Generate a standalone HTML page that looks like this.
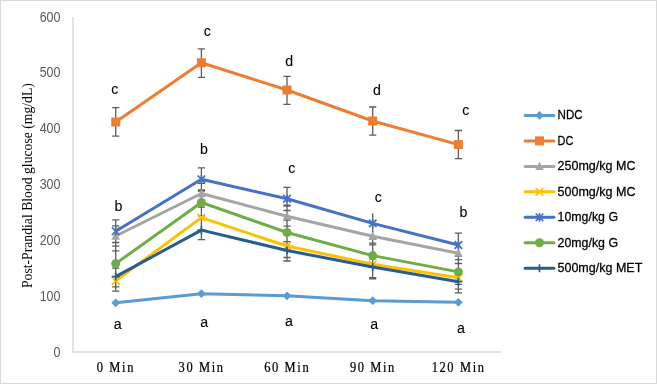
<!DOCTYPE html>
<html><head><meta charset="utf-8">
<style>
html,body{margin:0;padding:0;background:#fff;}
body{width:657px;height:384px;overflow:hidden;}
svg{display:block;will-change:transform;}
.tk{font-family:"Liberation Sans",sans-serif;font-size:12.5px;fill:#595959;}
.xl{font-family:"Liberation Serif",serif;font-size:12.5px;fill:#000;letter-spacing:1.6px;stroke:#000;stroke-width:0.2px;}
.yt{font-family:"Liberation Serif",serif;font-size:13.7px;fill:#000;}
.lb{font-family:"Liberation Sans",sans-serif;font-size:14.2px;fill:#000;stroke:#000;stroke-width:0.08px;}
.lg{font-family:"Liberation Sans",sans-serif;font-size:11.8px;fill:#000;stroke:#000;stroke-width:0.25px;}
</style></head>
<body><svg width="657" height="384" viewBox="0 0 657 384">
<rect x="0.5" y="0.5" width="656" height="383" fill="#fff" stroke="#d9d9d9" stroke-width="1"/>
<line x1="73" y1="17" x2="73" y2="352.5" stroke="#d9d9d9" stroke-width="1.5"/>
<line x1="72.25" y1="352" x2="501" y2="352" stroke="#d9d9d9" stroke-width="1.5"/>
<text transform="translate(60.5 356.6) scale(1 1.1)" text-anchor="end" class="tk">0</text>
<text transform="translate(60.5 300.8) scale(1 1.1)" text-anchor="end" class="tk">100</text>
<text transform="translate(60.5 244.9) scale(1 1.1)" text-anchor="end" class="tk">200</text>
<text transform="translate(60.5 189.1) scale(1 1.1)" text-anchor="end" class="tk">300</text>
<text transform="translate(60.5 133.3) scale(1 1.1)" text-anchor="end" class="tk">400</text>
<text transform="translate(60.5 77.4) scale(1 1.1)" text-anchor="end" class="tk">500</text>
<text transform="translate(60.5 21.6) scale(1 1.1)" text-anchor="end" class="tk">600</text>
<text transform="translate(115.9 371.6) scale(1 1.12)" text-anchor="middle" class="xl">0 Min</text>
<text transform="translate(201.6 371.6) scale(1 1.12)" text-anchor="middle" class="xl">30 Min</text>
<text transform="translate(287.2 371.6) scale(1 1.12)" text-anchor="middle" class="xl">60 Min</text>
<text transform="translate(372.9 371.6) scale(1 1.12)" text-anchor="middle" class="xl">90 Min</text>
<text transform="translate(458.6 371.6) scale(1 1.12)" text-anchor="middle" class="xl">120 Min</text>
<text transform="translate(32.4 185.6) rotate(-90)" text-anchor="middle" class="yt">Post-Prandial Blood glucose (mg/dL)</text>
<path d="M115.7 107.6V136.2M115.7 219.9V291.2M112.1 107.6H119.3M112.1 136.2H119.3M112.1 219.9H119.3M112.1 225.8H119.3M112.1 242.5H119.3M112.1 246.1H119.3M112.1 250.9H119.3M112.1 268.2H119.3M112.1 286.9H119.3M112.1 291.2H119.3M201.4 48.8V77.3M201.4 167.8V239.6M197.8 48.8H205.0M197.8 77.3H205.0M197.8 167.8H205.0M197.8 183.4H205.0M197.8 189.8H205.0M197.8 191.0H205.0M197.8 207.1H205.0M197.8 215.8H205.0M197.8 239.6H205.0M287.0 76.3V104.3M287.0 187.3V261.0M283.4 76.3H290.6M283.4 104.3H290.6M283.4 187.3H290.6M283.4 205.2H290.6M283.4 206.2H290.6M283.4 210.5H290.6M283.4 220.0H290.6M283.4 226.1H290.6M283.4 241.7H290.6M283.4 257.5H290.6M283.4 261.0H290.6M372.7 107.0V135.2M372.7 213.2V278.8M369.1 107.0H376.3M369.1 135.2H376.3M369.1 243.2H376.3M369.1 244.8H376.3M369.1 258.8H376.3M369.1 277.6H376.3M369.1 278.8H376.3M458.4 130.5V158.7M458.4 233.1V292.8M454.8 130.5H462.0M454.8 158.7H462.0M454.8 233.1H462.0M454.8 256.3H462.0M454.8 259.6H462.0M454.8 263.5H462.0M454.8 284.3H462.0M454.8 289.1H462.0M454.8 292.8H462.0" stroke="#5d5d5d" stroke-width="1.3" fill="none"/>
<polyline points="115.7,302.8 201.4,293.7 287.0,295.8 372.7,300.7 458.4,302.3" stroke="#5B9BD5" stroke-width="3" fill="none" stroke-linejoin="round"/>
<path d="M115.7 298.40000000000003L120.10000000000001 302.8L115.7 307.2L111.3 302.8Z" fill="#5B9BD5"/>
<path d="M201.4 289.3L205.8 293.7L201.4 298.09999999999997L197.0 293.7Z" fill="#5B9BD5"/>
<path d="M287.0 291.40000000000003L291.4 295.8L287.0 300.2L282.6 295.8Z" fill="#5B9BD5"/>
<path d="M372.7 296.3L377.09999999999997 300.7L372.7 305.09999999999997L368.3 300.7Z" fill="#5B9BD5"/>
<path d="M458.4 297.90000000000003L462.79999999999995 302.3L458.4 306.7L454.0 302.3Z" fill="#5B9BD5"/>
<polyline points="115.7,122.0 201.4,62.8 287.0,90.0 372.7,121.0 458.4,144.6" stroke="#ED7D31" stroke-width="3" fill="none" stroke-linejoin="round"/>
<rect x="111.2" y="117.5" width="9.0" height="9.0" fill="#ED7D31"/>
<rect x="196.9" y="58.3" width="9.0" height="9.0" fill="#ED7D31"/>
<rect x="282.5" y="85.5" width="9.0" height="9.0" fill="#ED7D31"/>
<rect x="368.2" y="116.5" width="9.0" height="9.0" fill="#ED7D31"/>
<rect x="453.9" y="140.1" width="9.0" height="9.0" fill="#ED7D31"/>
<polyline points="115.7,236.0 201.4,193.5 287.0,216.2 372.7,236.3 458.4,253.2" stroke="#A5A5A5" stroke-width="3" fill="none" stroke-linejoin="round"/>
<path d="M115.7 231.27L120.0 239.655L111.4 239.655Z" fill="#A5A5A5"/>
<path d="M201.4 188.77L205.70000000000002 197.155L197.1 197.155Z" fill="#A5A5A5"/>
<path d="M287.0 211.47L291.3 219.855L282.7 219.855Z" fill="#A5A5A5"/>
<path d="M372.7 231.57000000000002L377.0 239.955L368.4 239.955Z" fill="#A5A5A5"/>
<path d="M458.4 248.47L462.7 256.85499999999996L454.09999999999997 256.85499999999996Z" fill="#A5A5A5"/>
<polyline points="115.7,280.8 201.4,217.6 287.0,246.0 372.7,264.3 458.4,277.8" stroke="#FFC000" stroke-width="3" fill="none" stroke-linejoin="round"/>
<path d="M111.9 277.0L119.5 284.6M119.5 277.0L111.9 284.6" stroke="#FFC000" stroke-width="1.7" fill="none"/>
<path d="M197.6 213.79999999999998L205.20000000000002 221.4M205.20000000000002 213.79999999999998L197.6 221.4" stroke="#FFC000" stroke-width="1.7" fill="none"/>
<path d="M283.2 242.2L290.8 249.8M290.8 242.2L283.2 249.8" stroke="#FFC000" stroke-width="1.7" fill="none"/>
<path d="M368.9 260.5L376.5 268.1M376.5 260.5L368.9 268.1" stroke="#FFC000" stroke-width="1.7" fill="none"/>
<path d="M454.59999999999997 274.0L462.2 281.6M462.2 274.0L454.59999999999997 281.6" stroke="#FFC000" stroke-width="1.7" fill="none"/>
<polyline points="115.7,231.2 201.4,179.3 287.0,198.8 372.7,223.4 458.4,245.0" stroke="#4472C4" stroke-width="3" fill="none" stroke-linejoin="round"/>
<path d="M111.9 227.39999999999998L119.5 235.0M119.5 227.39999999999998L111.9 235.0M115.7 226.82999999999998V235.57" stroke="#4472C4" stroke-width="1.7" fill="none"/>
<path d="M197.6 175.5L205.20000000000002 183.10000000000002M205.20000000000002 175.5L197.6 183.10000000000002M201.4 174.93V183.67000000000002" stroke="#4472C4" stroke-width="1.7" fill="none"/>
<path d="M283.2 194.95L290.8 202.55M290.8 194.95L283.2 202.55M287.0 194.38V203.12" stroke="#4472C4" stroke-width="1.7" fill="none"/>
<path d="M368.9 219.6L376.5 227.20000000000002M376.5 219.6L368.9 227.20000000000002M372.7 219.03V227.77" stroke="#4472C4" stroke-width="1.7" fill="none"/>
<path d="M454.59999999999997 241.2L462.2 248.8M462.2 241.2L454.59999999999997 248.8M458.4 240.63V249.37" stroke="#4472C4" stroke-width="1.7" fill="none"/>
<polyline points="115.7,263.6 201.4,202.5 287.0,232.5 372.7,255.6 458.4,271.9" stroke="#70AD47" stroke-width="3" fill="none" stroke-linejoin="round"/>
<circle cx="115.7" cy="263.6" r="4.5" fill="#70AD47"/>
<circle cx="201.4" cy="202.5" r="4.5" fill="#70AD47"/>
<circle cx="287.0" cy="232.5" r="4.5" fill="#70AD47"/>
<circle cx="372.7" cy="255.6" r="4.5" fill="#70AD47"/>
<circle cx="458.4" cy="271.9" r="4.5" fill="#70AD47"/>
<polyline points="115.7,276.6 201.4,230.1 287.0,250.5 372.7,267.0 458.4,281.7" stroke="#255E91" stroke-width="3" fill="none" stroke-linejoin="round"/>
<path d="M111.7 276.6L119.7 276.6M115.7 272.6L115.7 280.6" stroke="#255E91" stroke-width="1.7" fill="none"/>
<path d="M197.4 230.1L205.4 230.1M201.4 226.1L201.4 234.1" stroke="#255E91" stroke-width="1.7" fill="none"/>
<path d="M283.0 250.5L291.0 250.5M287.0 246.5L287.0 254.5" stroke="#255E91" stroke-width="1.7" fill="none"/>
<path d="M368.7 267.0L376.7 267.0M372.7 263.0L372.7 271.0" stroke="#255E91" stroke-width="1.7" fill="none"/>
<path d="M454.4 281.7L462.4 281.7M458.4 277.7L458.4 285.7" stroke="#255E91" stroke-width="1.7" fill="none"/>
<text transform="translate(114.8 93.9) scale(1 1.06)" text-anchor="middle" class="lb">c</text>
<text transform="translate(207.4 36.3) scale(1 1.06)" text-anchor="middle" class="lb">c</text>
<text transform="translate(289.1 66.3) scale(1 1.06)" text-anchor="middle" class="lb">d</text>
<text transform="translate(377.0 94.8) scale(1 1.06)" text-anchor="middle" class="lb">d</text>
<text transform="translate(465.8 115.0) scale(1 1.06)" text-anchor="middle" class="lb">c</text>
<text transform="translate(118.4 210.8) scale(1 1.06)" text-anchor="middle" class="lb">b</text>
<text transform="translate(204.0 154.4) scale(1 1.06)" text-anchor="middle" class="lb">b</text>
<text transform="translate(291.8 172.8) scale(1 1.06)" text-anchor="middle" class="lb">c</text>
<text transform="translate(378.2 202.0) scale(1 1.06)" text-anchor="middle" class="lb">c</text>
<text transform="translate(463.5 217.2) scale(1 1.06)" text-anchor="middle" class="lb">b</text>
<text transform="translate(117.8 328.6) scale(1 1.06)" text-anchor="middle" class="lb">a</text>
<text transform="translate(204.1 327.4) scale(1 1.06)" text-anchor="middle" class="lb">a</text>
<text transform="translate(289.0 326.0) scale(1 1.06)" text-anchor="middle" class="lb">a</text>
<text transform="translate(374.1 328.5) scale(1 1.06)" text-anchor="middle" class="lb">a</text>
<text transform="translate(460.9 332.8) scale(1 1.06)" text-anchor="middle" class="lb">a</text>
<line x1="525.1" y1="115.4" x2="553.9" y2="115.4" stroke="#5B9BD5" stroke-width="3" stroke-linecap="round"/>
<path d="M539.5 111.0L543.9 115.4L539.5 119.80000000000001L535.1 115.4Z" fill="#5B9BD5"/>
<text transform="translate(557.5 119.4) scale(1 1.07)" class="lg" textLength="25.2" lengthAdjust="spacingAndGlyphs">NDC</text>
<line x1="525.1" y1="140.9" x2="553.9" y2="140.9" stroke="#ED7D31" stroke-width="3" stroke-linecap="round"/>
<rect x="535.0" y="136.38" width="9.0" height="9.0" fill="#ED7D31"/>
<text transform="translate(557.5 144.9) scale(1 1.07)" class="lg" textLength="15.8" lengthAdjust="spacingAndGlyphs">DC</text>
<line x1="525.1" y1="166.4" x2="553.9" y2="166.4" stroke="#A5A5A5" stroke-width="3" stroke-linecap="round"/>
<path d="M539.5 161.63000000000002L543.8 170.01500000000001L535.2 170.01500000000001Z" fill="#A5A5A5"/>
<text transform="translate(557.5 170.4) scale(1 1.07)" class="lg" textLength="78.0" lengthAdjust="spacingAndGlyphs">250mg/kg MC</text>
<line x1="525.1" y1="191.8" x2="553.9" y2="191.8" stroke="#FFC000" stroke-width="3" stroke-linecap="round"/>
<path d="M535.7 188.04L543.3 195.64000000000001M543.3 188.04L535.7 195.64000000000001" stroke="#FFC000" stroke-width="1.7" fill="none"/>
<text transform="translate(557.5 195.8) scale(1 1.07)" class="lg" textLength="78.0" lengthAdjust="spacingAndGlyphs">500mg/kg MC</text>
<line x1="525.1" y1="217.3" x2="553.9" y2="217.3" stroke="#4472C4" stroke-width="3" stroke-linecap="round"/>
<path d="M535.7 213.51999999999998L543.3 221.12M543.3 213.51999999999998L535.7 221.12M539.5 212.95V221.69" stroke="#4472C4" stroke-width="1.7" fill="none"/>
<text transform="translate(557.5 221.3) scale(1 1.07)" class="lg" textLength="60.5" lengthAdjust="spacingAndGlyphs">10mg/kg G</text>
<line x1="525.1" y1="242.8" x2="553.9" y2="242.8" stroke="#70AD47" stroke-width="3" stroke-linecap="round"/>
<circle cx="539.5" cy="242.8" r="4.5" fill="#70AD47"/>
<text transform="translate(557.5 246.8) scale(1 1.07)" class="lg" textLength="60.5" lengthAdjust="spacingAndGlyphs">20mg/kg G</text>
<line x1="525.1" y1="268.3" x2="553.9" y2="268.3" stroke="#255E91" stroke-width="3" stroke-linecap="round"/>
<path d="M535.5 268.28L543.5 268.28M539.5 264.28L539.5 272.28" stroke="#255E91" stroke-width="1.7" fill="none"/>
<text transform="translate(557.5 272.3) scale(1 1.07)" class="lg" textLength="84.8" lengthAdjust="spacingAndGlyphs">500mg/kg MET</text>
</svg></body></html>
